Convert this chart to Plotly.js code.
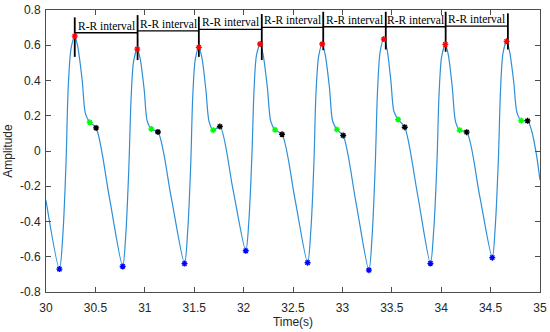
<!DOCTYPE html>
<html><head><meta charset="utf-8">
<script src="https://cdn.plot.ly/plotly-3.0.1.min.js"></script>
<style>html,body{margin:0;padding:0;background:#fff;} #chart{width:550px;height:332px;}</style>
</head><body><div id="chart"></div>
<script>
// PPG signal samples (time in s, amplitude)
const time = [30.000, 30.136, 30.171, 30.203, 30.224, 30.253, 30.291, 30.321, 30.366, 30.399, 30.442, 30.507, 30.641,
  30.776, 30.808, 30.839, 30.861, 30.887, 30.924, 30.953, 30.994, 31.024, 31.066, 31.133, 31.268,
  31.402, 31.434, 31.465, 31.485, 31.511, 31.547, 31.577, 31.618, 31.651, 31.692, 31.760, 31.891,
  32.022, 32.054, 32.084, 32.105, 32.130, 32.167, 32.197, 32.241, 32.275, 32.318, 32.389, 32.519,
  32.648, 32.681, 32.712, 32.732, 32.760, 32.796, 32.825, 32.869, 32.901, 32.944, 33.008, 33.138,
  33.268, 33.301, 33.333, 33.355, 33.382, 33.419, 33.451, 33.490, 33.522, 33.564, 33.631, 33.762,
  33.891, 33.924, 33.957, 33.978, 34.005, 34.042, 34.072, 34.113, 34.145, 34.187, 34.258, 34.388,
  34.517, 34.548, 34.579, 34.600, 34.625, 34.662, 34.691, 34.734, 34.767, 34.810, 34.874, 34.914, 34.962, 35.000];
const amplitude = [-0.280, -0.670, -0.472, -0.062, 0.348, 0.579, 0.652, 0.593, 0.403, 0.212, 0.163, 0.131, -0.262,
  -0.655, -0.470, -0.088, 0.295, 0.511, 0.578, 0.524, 0.347, 0.171, 0.125, 0.108, -0.266,
  -0.639, -0.455, -0.075, 0.305, 0.520, 0.588, 0.532, 0.348, 0.165, 0.118, 0.139, -0.213,
  -0.566, -0.390, -0.026, 0.337, 0.542, 0.607, 0.548, 0.358, 0.168, 0.120, 0.095, -0.270,
  -0.634, -0.448, -0.063, 0.321, 0.538, 0.607, 0.549, 0.359, 0.170, 0.122, 0.088, -0.294,
  -0.676, -0.479, -0.073, 0.333, 0.563, 0.635, 0.580, 0.402, 0.224, 0.179, 0.135, -0.251,
  -0.638, -0.451, -0.066, 0.319, 0.537, 0.605, 0.546, 0.357, 0.167, 0.118, 0.107, -0.250,
  -0.605, -0.421, -0.041, 0.339, 0.554, 0.622, 0.568, 0.393, 0.218, 0.173, 0.171, 0.118, -0.014, -0.166];

// detected points
const peakT = [30.291, 30.924, 31.547, 32.167, 32.796, 33.419, 34.042, 34.662];
const peakA = [0.652, 0.578, 0.588, 0.607, 0.607, 0.635, 0.605, 0.622];
const valleyT = [30.136, 30.776, 31.402, 32.022, 32.648, 33.268, 33.891, 34.517];
const valleyA = [-0.670, -0.655, -0.639, -0.566, -0.634, -0.676, -0.638, -0.605];
const greenT = [30.442, 31.066, 31.692, 32.318, 32.944, 33.564, 34.187, 34.810];
const greenA = [0.163, 0.125, 0.118, 0.120, 0.122, 0.179, 0.118, 0.173];
const blackT = [30.507, 31.133, 31.760, 32.389, 33.008, 33.631, 34.258, 34.874];
const blackA = [0.131, 0.108, 0.139, 0.095, 0.088, 0.135, 0.107, 0.171];

// R-R interval markers
const rrT = [30.291, 30.927, 31.547, 32.184, 32.806, 33.439, 34.045, 34.675];
const rrTop = [0.758, 0.771, 0.762, 0.777, 0.790, 0.790, 0.790, 0.781];
const rrBottom = [0.534, 0.516, 0.534, 0.516, 0.572, 0.576, 0.563, 0.576];
const rrLevel = [0.671, 0.682, 0.690, 0.701, 0.705, 0.705, 0.709];
const rrLabel = 'R-R interval';

// axis ticks
const xTicks = [30, 30.5, 31, 31.5, 32, 32.5, 33, 33.5, 34, 34.5, 35];
const xTickText = ['30', '30.5', '31', '31.5', '32', '32.5', '33', '33.5', '34', '34.5', '35'];
const yTicks = [-0.8, -0.6, -0.4, -0.2, 0, 0.2, 0.4, 0.6, 0.8];
const yTickText = ['-0.8', '-0.6', '-0.4', '-0.2', '0', '0.2', '0.4', '0.6', '0.8'];

const vx = [], vy = [], hx = [], hy = [];
rrT.forEach((t, i) => { vx.push(t, t, null); vy.push(rrTop[i], rrBottom[i], null); });
for (let i = 0; i < rrLevel.length; i++) { hx.push(rrT[i], rrT[i + 1], null); hy.push(rrLevel[i], rrLevel[i], null); }

function mk(x, y, color) {
  return {x: x, y: y, mode: 'markers', hoverinfo: 'skip',
    marker: {symbol: 'asterisk-open', size: 5, color: color, line: {color: color, width: 1.4}}};
}

const traces = [
  {x: time, y: amplitude, mode: 'lines', hoverinfo: 'skip',
   line: {color: '#2d8fd8', width: 1.2, shape: 'spline', smoothing: 0.8}},
  {x: hx, y: hy, mode: 'lines', hoverinfo: 'skip', line: {color: '#000', width: 1.3}},
  {x: vx, y: vy, mode: 'lines', hoverinfo: 'skip', line: {color: '#000', width: 1.8}},
  mk(peakT, peakA, '#ff0000'),
  mk(valleyT, valleyA, '#0000ff'),
  mk(greenT, greenA, '#00ff00'),
  mk(blackT, blackA, '#000000')
];

const annotations = rrLevel.map((lv, i) => ({
  x: (rrT[i] + rrT[i + 1]) / 2, y: lv, xref: 'x', yref: 'y', text: rrLabel,
  showarrow: false, yanchor: 'bottom', xanchor: 'center', yshift: -1,
  font: {family: '"Times New Roman", "Liberation Serif", serif', size: 11.5, color: '#000'}
}));

const axisCommon = {
  showline: true, mirror: 'ticks', linecolor: '#4d4d4d', linewidth: 1,
  ticks: 'inside', ticklen: 5, tickcolor: '#4d4d4d', tickwidth: 1,
  showgrid: false, zeroline: false, tickmode: 'array',
  tickfont: {family: 'Arial, "Liberation Sans", sans-serif', size: 12, color: '#262626'}
};

const layout = {
  width: 550, height: 332,
  margin: {l: 46, r: 10, t: 10, b: 40},
  paper_bgcolor: '#fff', plot_bgcolor: '#fff',
  showlegend: false,
  xaxis: Object.assign({}, axisCommon, {range: [30, 35], tickvals: xTicks, ticktext: xTickText,
    ticklabelstandoff: 5,
    title: {text: 'Time(s)', standoff: 0, font: {family: 'Arial, "Liberation Sans", sans-serif', size: 12, color: '#262626'}}}),
  yaxis: Object.assign({}, axisCommon, {range: [-0.8, 0.8], tickvals: yTicks, ticktext: yTickText,
    ticklabelstandoff: 2,
    title: {text: 'Amplitude', standoff: 4, font: {family: 'Arial, "Liberation Sans", sans-serif', size: 12, color: '#262626'}}}),
  annotations: annotations
};

Plotly.newPlot('chart', traces, layout, {staticPlot: true, displayModeBar: false});
</script>
</body></html>
